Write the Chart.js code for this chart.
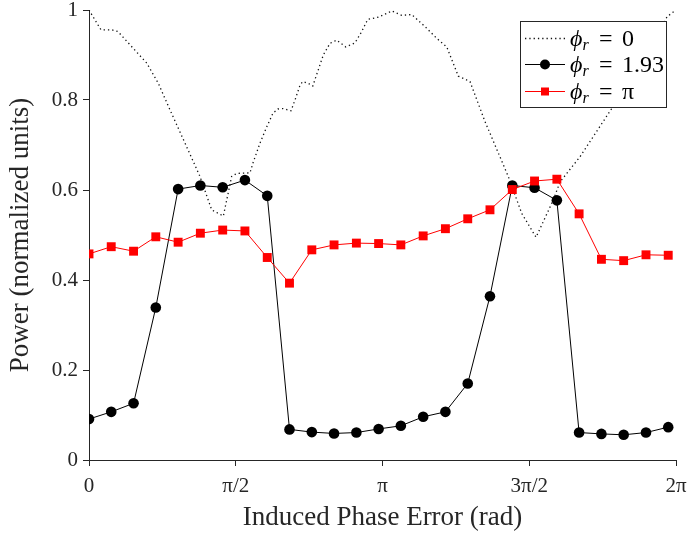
<!DOCTYPE html>
<html>
<head>
<meta charset="utf-8">
<script src="https://cdn.jsdelivr.net/npm/chart.js@4"></script>
<style>
  html, body { margin: 0; padding: 0; background: #fff; }
  #wrap { width: 689px; height: 535px; }
</style>
</head>
<body>
<div id="wrap"><canvas id="grafico" width="689" height="535"></canvas></div>
<script>
// Fase inducida (rad) de las series con marcadores
const fase = [0, 0.238, 0.477, 0.715, 0.954, 1.192, 1.431, 1.669, 1.908, 2.146, 2.385, 2.623, 2.862,
  3.100, 3.338, 3.577, 3.815, 4.054, 4.292, 4.531, 4.769, 5.008, 5.246, 5.485, 5.723, 5.962, 6.200];

// phi_r = 1.93 (círculos negros)
const potencia193 = [0.091, 0.107, 0.126, 0.339, 0.602, 0.610, 0.606, 0.622, 0.587, 0.068, 0.062, 0.059, 0.061,
  0.069, 0.076, 0.096, 0.107, 0.170, 0.364, 0.610, 0.605, 0.577, 0.061, 0.058, 0.056, 0.061, 0.073];

// phi_r = pi (cuadrados rojos)
const potenciaPi = [0.458, 0.474, 0.464, 0.496, 0.484, 0.504, 0.511, 0.509, 0.450, 0.393, 0.467, 0.478, 0.482,
  0.481, 0.478, 0.498, 0.514, 0.536, 0.556, 0.601, 0.620, 0.624, 0.547, 0.446, 0.443, 0.456, 0.455];

// phi_r = 0 (línea punteada, muestreo más fino)
const faseCero = [0, 0.128, 0.243, 0.310, 0.618, 0.742, 0.867, 1.028, 1.188, 1.313, 1.438, 1.527, 1.581,
  1.723, 1.755, 1.830, 1.902, 1.970, 2.023, 2.073, 2.162, 2.205, 2.259, 2.287, 2.347, 2.395, 2.454,
  2.508, 2.580, 2.651, 2.748, 2.847, 2.919, 2.983, 3.097, 3.193, 3.240, 3.347, 3.454, 3.597, 3.722,
  3.829, 3.953, 4.078, 4.239, 4.488, 4.632, 4.785, 4.970, 5.042, 5.256, 5.595, 5.791, 5.952, 6.080,
  6.187, 6.283];
const potenciaCero = [1.0, 0.956, 0.956, 0.952, 0.882, 0.837, 0.778, 0.704, 0.630, 0.556, 0.542, 0.630, 0.637,
  0.638, 0.660, 0.704, 0.740, 0.771, 0.780, 0.781, 0.776, 0.800, 0.833, 0.841, 0.837, 0.831, 0.867,
  0.900, 0.926, 0.933, 0.918, 0.927, 0.952, 0.979, 0.984, 0.993, 0.998, 0.988, 0.990, 0.963, 0.937,
  0.918, 0.853, 0.841, 0.752, 0.630, 0.548, 0.495, 0.578, 0.618, 0.674, 0.781, 0.830, 0.890, 0.940,
  0.985, 1.0];

// Etiquetas de los ejes
const ticksX = [0, Math.PI / 2, Math.PI, 3 * Math.PI / 2, 2 * Math.PI];
const etiquetasX = ['0', 'π/2', 'π', '3π/2', '2π'];
const etiquetasY = ['0', '0.2', '0.4', '0.6', '0.8', '1'];
const nombres = ['0', '1.93', 'π'];

const ejeColor = '#262626';
const fuente = 'Liberation Serif';

const puntos = (xs, ys) => xs.map((x, i) => ({ x: x, y: ys[i] }));

// Leyenda propia (necesita subíndices)
const leyenda = {
  id: 'leyenda',
  afterDraw(chart) {
    const c = chart.ctx;
    c.save();
    c.fillStyle = '#fff';
    c.fillRect(520, 21, 146, 86);
    c.strokeStyle = ejeColor;
    c.lineWidth = 1;
    c.strokeRect(520.5, 21.5, 146, 86);
    const filas = [38, 64, 91];
    const estilos = [
      { color: '#111', dash: [1.3, 3], marca: null },
      { color: '#000', dash: [], marca: 'circulo' },
      { color: '#ff0000', dash: [], marca: 'cuadro' }
    ];
    filas.forEach((y, i) => {
      const e = estilos[i];
      c.strokeStyle = e.color;
      c.lineWidth = i === 0 ? 1.3 : 1;
      c.setLineDash(e.dash);
      c.beginPath();
      c.moveTo(525, y + 0.5);
      c.lineTo(565, y + 0.5);
      c.stroke();
      c.setLineDash([]);
      c.fillStyle = e.color;
      if (e.marca === 'circulo') {
        c.beginPath();
        c.arc(545, y + 0.5, 5, 0, Math.PI * 2);
        c.fill();
      } else if (e.marca === 'cuadro') {
        c.fillRect(541, y - 3.5, 8, 8);
      }
      // texto: phi_r = valor
      c.fillStyle = '#000';
      c.textBaseline = 'alphabetic';
      c.font = 'italic 24px ' + fuente;
      c.fillText('ϕ', 570, y + 8);
      const w = c.measureText('ϕ').width;
      c.font = 'italic 16px ' + fuente;
      c.fillText('r', 570 + w, y + 12);
      c.font = '24px ' + fuente;
      c.fillText('=', 599, y + 8);
      c.fillText(nombres[i], 622, y + 8);
    });
    c.restore();
  }
};

const ctx = document.getElementById('grafico').getContext('2d');
const grafico = new Chart(ctx, {
  type: 'line',
  data: {
    datasets: [
      {
        label: 'phi_r = 0',
        data: puntos(faseCero, potenciaCero),
        borderColor: '#111',
        borderWidth: 1.3,
        borderDash: [1.3, 3],
        pointRadius: 0,
        order: 3
      },
      {
        label: 'phi_r = 1.93',
        data: puntos(fase, potencia193),
        borderColor: '#000',
        backgroundColor: '#000',
        borderWidth: 1,
        pointRadius: 5.3,
        pointBorderWidth: 0,
        order: 2
      },
      {
        label: 'phi_r = pi',
        data: puntos(fase, potenciaPi),
        borderColor: '#ff0000',
        backgroundColor: '#ff0000',
        borderWidth: 1,
        pointStyle: 'rect',
        pointRadius: 6.3,
        pointBorderWidth: 0,
        order: 1
      }
    ]
  },
  options: {
    responsive: false,
    animation: false,
    events: [],
    layout: { padding: { top: 10, right: 13, left: 0, bottom: 0 } },
    plugins: { legend: { display: false }, tooltip: { enabled: false } },
    scales: {
      x: {
        type: 'linear',
        min: 0,
        max: 2 * Math.PI,
        afterBuildTicks: (s) => { s.ticks = ticksX.map(v => ({ value: v })); },
        afterFit: (s) => { s.height = 75; s.paddingLeft = 0; s.paddingRight = 0; },
        ticks: {
          autoSkip: false,
          maxRotation: 0,
          padding: 8,
          color: ejeColor,
          font: { family: fuente, size: 21 },
          callback: (v, i) => etiquetasX[i]
        },
        grid: { drawOnChartArea: false, tickLength: 6, tickColor: ejeColor },
        border: { color: ejeColor, width: 1 },
        title: {
          display: true,
          text: 'Induced Phase Error (rad)',
          color: ejeColor,
          font: { family: fuente, size: 27 },
          padding: { top: 0, bottom: 1 }
        }
      },
      y: {
        min: 0,
        max: 1,
        ticks: {
          stepSize: 0.2,
          padding: 5,
          color: ejeColor,
          font: { family: fuente, size: 21 },
          callback: (v, i) => etiquetasY[i]
        },
        afterFit: (s) => { s.width = 89; s.paddingTop = 0; s.paddingBottom = 0; },
        grid: { drawOnChartArea: false, tickLength: 6, tickColor: ejeColor },
        border: { color: ejeColor, width: 1 },
        title: {
          display: true,
          text: 'Power (normalized units)',
          color: ejeColor,
          font: { family: fuente, size: 27 },
          padding: { top: 5, bottom: 0 }
        }
      }
    }
  },
  plugins: [leyenda]
});
</script>
</body>
</html>
